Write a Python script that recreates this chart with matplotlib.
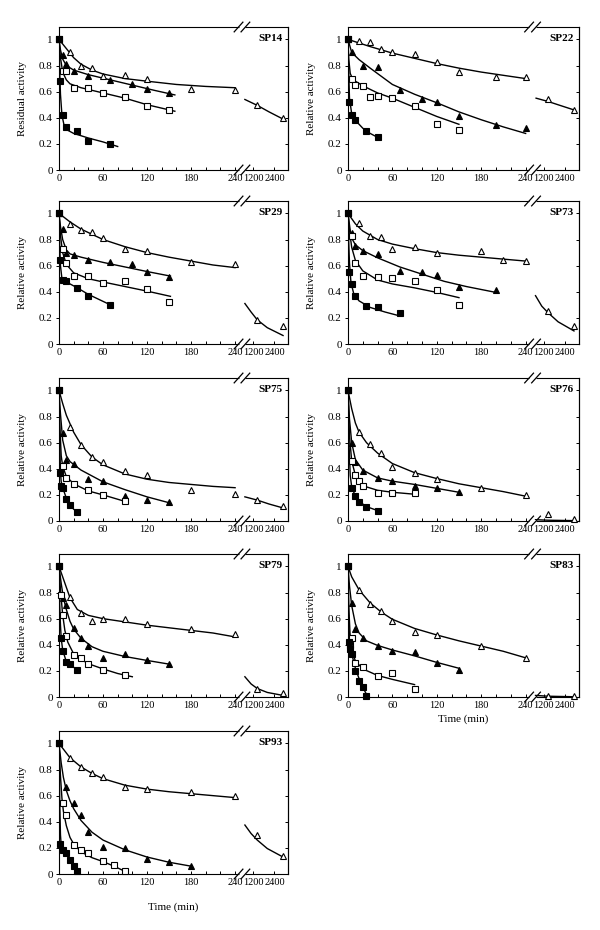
import numpy as np
import matplotlib
matplotlib.use("Agg")
import matplotlib.pyplot as plt

plt.rcParams['font.family'] = ['Liberation Serif', 'DejaVu Serif']

# x tick values / labels (broken time axis)
xticks = [0, 60, 120, 180, 240, 1200, 2400]
xticklabels = ['0', '60', '120', '180', '240', '1200', '2400']
yticks = [0, 0.2, 0.4, 0.6, 0.8, 1.0]
yticklabels = ['0', '0.2', '0.4', '0.6', '0.8', '1']

# measured points: (times, values) per series
# tri_open = open triangles, tri_fill = filled triangles, sq_open = open squares, sq_fill = filled squares
SP14 = {
    'tri_open': ([0, 15, 30, 45, 60, 90, 120, 180, 240, 1440, 2880],
                 [1.0, 0.90, 0.80, 0.78, 0.72, 0.73, 0.70, 0.62, 0.61, 0.50, 0.40]),
    'tri_fill': ([0, 5, 10, 20, 40, 70, 100, 120, 150],
                 [1.0, 0.88, 0.81, 0.76, 0.72, 0.69, 0.66, 0.62, 0.59]),
    'sq_open': ([0, 5, 10, 20, 40, 60, 90, 120, 150],
                [1.0, 0.76, 0.76, 0.63, 0.63, 0.59, 0.56, 0.49, 0.46]),
    'sq_fill': ([0, 2, 5, 10, 25, 40, 70],
                [1.0, 0.68, 0.42, 0.33, 0.30, 0.22, 0.20]),
}
SP22 = {
    'tri_open': ([0, 15, 30, 45, 60, 90, 120, 150, 200, 240, 1440, 2880],
                 [1.0, 0.99, 0.98, 0.93, 0.90, 0.885, 0.83, 0.75, 0.71, 0.71, 0.54, 0.46]),
    'tri_fill': ([0, 5, 20, 40, 70, 100, 120, 150, 200, 240],
                 [1.0, 0.90, 0.80, 0.79, 0.61, 0.54, 0.52, 0.41, 0.345, 0.32]),
    'sq_open': ([0, 5, 10, 20, 30, 40, 60, 90, 120, 150],
                [1.0, 0.70, 0.65, 0.645, 0.56, 0.57, 0.555, 0.49, 0.35, 0.31]),
    'sq_fill': ([0, 2, 5, 10, 25, 40],
                [1.0, 0.52, 0.42, 0.38, 0.30, 0.25]),
}
SP29 = {
    'tri_open': ([0, 15, 30, 45, 60, 90, 120, 180, 240, 1440, 2880],
                 [1.0, 0.92, 0.87, 0.86, 0.81, 0.73, 0.71, 0.63, 0.61, 0.18, 0.14]),
    'tri_fill': ([0, 5, 10, 20, 40, 70, 100, 120, 150],
                 [1.0, 0.88, 0.70, 0.68, 0.64, 0.63, 0.615, 0.55, 0.51]),
    'sq_open': ([0, 5, 10, 20, 40, 60, 90, 120, 150],
                [1.0, 0.725, 0.62, 0.52, 0.52, 0.47, 0.48, 0.42, 0.32]),
    'sq_fill': ([0, 2, 5, 10, 25, 40, 70],
                [1.0, 0.64, 0.49, 0.48, 0.43, 0.37, 0.30]),
}
SP73 = {
    'tri_open': ([0, 15, 30, 45, 60, 90, 120, 180, 210, 240, 1440, 2880],
                 [1.0, 0.93, 0.825, 0.82, 0.73, 0.74, 0.70, 0.715, 0.645, 0.635, 0.25, 0.135]),
    'tri_fill': ([0, 5, 10, 20, 40, 70, 100, 120, 150, 200],
                 [1.0, 0.85, 0.75, 0.715, 0.69, 0.56, 0.55, 0.53, 0.435, 0.415]),
    'sq_open': ([0, 5, 10, 20, 40, 60, 90, 120, 150],
                [1.0, 0.825, 0.62, 0.52, 0.515, 0.505, 0.485, 0.415, 0.295]),
    'sq_fill': ([0, 2, 5, 10, 25, 40, 70],
                [1.0, 0.555, 0.46, 0.365, 0.29, 0.28, 0.235]),
}
SP75 = {
    'tri_open': ([0, 15, 30, 45, 60, 90, 120, 180, 240, 1440, 2880],
                 [1.0, 0.72, 0.58, 0.49, 0.45, 0.38, 0.355, 0.235, 0.205, 0.16, 0.115]),
    'tri_fill': ([0, 5, 10, 20, 40, 60, 90, 120, 150],
                 [1.0, 0.675, 0.465, 0.44, 0.325, 0.305, 0.19, 0.16, 0.145]),
    'sq_open': ([0, 5, 10, 20, 40, 60, 90],
                [1.0, 0.42, 0.33, 0.28, 0.235, 0.20, 0.155]),
    'sq_fill': ([0, 1, 3, 5, 10, 15, 25],
                [1.0, 0.37, 0.27, 0.25, 0.17, 0.12, 0.07]),
}
SP76 = {
    'tri_open': ([0, 15, 30, 45, 60, 90, 120, 180, 240, 1440, 2880],
                 [1.0, 0.68, 0.59, 0.52, 0.415, 0.365, 0.32, 0.25, 0.20, 0.055, 0.015]),
    'tri_fill': ([0, 5, 10, 20, 40, 60, 90, 120, 150],
                 [1.0, 0.60, 0.455, 0.38, 0.33, 0.305, 0.27, 0.25, 0.225]),
    'sq_open': ([0, 5, 10, 15, 20, 40, 60, 90],
                [1.0, 0.46, 0.35, 0.31, 0.27, 0.215, 0.215, 0.215]),
    'sq_fill': ([0, 5, 10, 15, 25, 40],
                [1.0, 0.25, 0.195, 0.145, 0.11, 0.08]),
}
SP79 = {
    'tri_open': ([0, 15, 30, 45, 60, 90, 120, 180, 240, 1440, 2880],
                 [1.0, 0.765, 0.64, 0.585, 0.595, 0.595, 0.56, 0.52, 0.48, 0.065, 0.03]),
    'tri_fill': ([0, 5, 10, 20, 30, 40, 60, 90, 120, 150],
                 [1.0, 0.76, 0.705, 0.53, 0.45, 0.39, 0.30, 0.33, 0.28, 0.25]),
    'sq_open': ([0, 3, 5, 10, 20, 30, 40, 60, 90],
                [1.0, 0.78, 0.63, 0.465, 0.32, 0.30, 0.25, 0.21, 0.165]),
    'sq_fill': ([0, 3, 5, 10, 15, 25],
                [1.0, 0.45, 0.355, 0.27, 0.25, 0.21]),
}
SP83 = {
    'tri_open': ([0, 15, 30, 45, 60, 90, 120, 180, 240, 1440, 2880],
                 [1.0, 0.82, 0.71, 0.655, 0.585, 0.50, 0.475, 0.39, 0.30, 0.005, 0.005]),
    'tri_fill': ([0, 5, 10, 20, 40, 60, 90, 120, 150],
                 [1.0, 0.72, 0.52, 0.45, 0.39, 0.355, 0.345, 0.26, 0.21]),
    'sq_open': ([0, 3, 5, 10, 20, 40, 60, 90],
                [1.0, 0.40, 0.45, 0.26, 0.23, 0.16, 0.18, 0.06]),
    'sq_fill': ([0, 1, 3, 5, 10, 15, 20, 25],
                [1.0, 0.42, 0.37, 0.33, 0.20, 0.12, 0.08, 0.01]),
}
SP93 = {
    'tri_open': ([0, 15, 30, 45, 60, 90, 120, 180, 240, 1440, 2880],
                 [1.0, 0.89, 0.82, 0.77, 0.745, 0.665, 0.65, 0.625, 0.60, 0.295, 0.14]),
    'tri_fill': ([0, 10, 20, 30, 40, 60, 90, 120, 150, 180],
                 [1.0, 0.665, 0.545, 0.455, 0.32, 0.205, 0.20, 0.115, 0.09, 0.065]),
    'sq_open': ([0, 5, 10, 20, 30, 40, 60, 75, 90],
                [1.0, 0.545, 0.45, 0.225, 0.18, 0.16, 0.10, 0.07, 0.02]),
    'sq_fill': ([0, 2, 5, 10, 15, 20, 25],
                [1.0, 0.23, 0.18, 0.16, 0.11, 0.06, 0.02]),
}

# fitted curves (times, values)
SP14_FIT = {
    'tri_open': ([0, 10, 20, 30, 45, 60, 90, 120, 160, 200, 246],
                 [1.0, 0.93, 0.86, 0.81, 0.765, 0.735, 0.70, 0.68, 0.655, 0.64, 0.63]),
    'tri_late': ([770, 1440, 2100, 2880], [0.54, 0.495, 0.445, 0.39]),
    'tri_fill': ([0, 2, 5, 10, 20, 40, 70, 100, 130, 158],
                 [1.0, 0.92, 0.85, 0.80, 0.765, 0.73, 0.69, 0.65, 0.61, 0.575]),
    'sq_open': ([0, 2, 5, 10, 15, 30, 60, 90, 120, 158],
                [1.0, 0.86, 0.75, 0.69, 0.66, 0.63, 0.59, 0.55, 0.50, 0.45]),
    'sq_fill': ([0, 1, 2, 4, 7, 10, 20, 40, 60, 80],
                [1.0, 0.75, 0.58, 0.42, 0.34, 0.31, 0.28, 0.245, 0.215, 0.18]),
}
SP22_FIT = {
    'tri_open': ([0, 30, 60, 90, 120, 150, 180, 210, 246],
                 [1.0, 0.945, 0.895, 0.855, 0.815, 0.78, 0.75, 0.725, 0.70]),
    'tri_late': ([800, 1440, 2100, 2880], [0.55, 0.525, 0.495, 0.46]),
    'tri_fill': ([0, 5, 15, 30, 60, 90, 120, 150, 180, 210, 246],
                 [1.0, 0.90, 0.845, 0.78, 0.655, 0.58, 0.515, 0.445, 0.385, 0.33, 0.28]),
    'sq_open': ([0, 1, 3, 6, 10, 20, 40, 60, 90, 120, 150],
                [1.0, 0.85, 0.74, 0.70, 0.68, 0.645, 0.59, 0.55, 0.48, 0.41, 0.35]),
    'sq_fill': ([0, 1, 2, 5, 10, 20, 30, 40],
                [1.0, 0.75, 0.55, 0.43, 0.38, 0.32, 0.28, 0.25]),
}
SP29_FIT = {
    'tri_open': ([0, 15, 30, 60, 90, 120, 150, 180, 210, 246],
                 [1.0, 0.935, 0.88, 0.80, 0.745, 0.70, 0.665, 0.635, 0.605, 0.585]),
    'tri_late': ([770, 1100, 1440, 2000, 2880], [0.31, 0.245, 0.185, 0.125, 0.065]),
    'tri_fill': ([0, 2, 5, 10, 15, 30, 60, 90, 120, 152],
                 [1.0, 0.90, 0.80, 0.72, 0.69, 0.665, 0.625, 0.59, 0.555, 0.52]),
    'sq_open': ([0, 2, 5, 10, 20, 40, 60, 90, 120, 152],
                [1.0, 0.83, 0.70, 0.61, 0.545, 0.50, 0.475, 0.44, 0.405, 0.365]),
    'sq_fill': ([0, 1, 2, 4, 10, 25, 40, 55, 70],
                [1.0, 0.75, 0.60, 0.50, 0.475, 0.43, 0.38, 0.34, 0.30]),
}
SP73_FIT = {
    'tri_open': ([0, 10, 20, 40, 60, 90, 120, 150, 180, 210, 246],
                 [1.0, 0.92, 0.865, 0.80, 0.765, 0.73, 0.70, 0.68, 0.665, 0.65, 0.635]),
    'tri_late': ([770, 1100, 1440, 2000, 2880], [0.37, 0.29, 0.24, 0.17, 0.10]),
    'tri_fill': ([0, 3, 6, 10, 20, 40, 70, 100, 130, 160, 200],
                 [1.0, 0.87, 0.80, 0.76, 0.715, 0.66, 0.59, 0.535, 0.48, 0.44, 0.395]),
    'sq_open': ([0, 2, 5, 10, 20, 40, 60, 90, 120, 150],
                [1.0, 0.87, 0.74, 0.64, 0.56, 0.49, 0.46, 0.43, 0.395, 0.355]),
    'sq_fill': ([0, 1, 2, 4, 8, 15, 30, 50, 70],
                [1.0, 0.78, 0.62, 0.47, 0.38, 0.33, 0.28, 0.245, 0.215]),
}
SP75_FIT = {
    'tri_open': ([0, 5, 10, 20, 30, 45, 60, 90, 120, 150, 180, 210, 246],
                 [1.0, 0.90, 0.81, 0.68, 0.585, 0.49, 0.43, 0.36, 0.32, 0.295, 0.28, 0.265, 0.255]),
    'tri_late': ([770, 1440, 2100, 2880], [0.185, 0.16, 0.13, 0.10]),
    'tri_fill': ([0, 2, 5, 10, 15, 30, 60, 90, 120, 150],
                 [1.0, 0.82, 0.62, 0.50, 0.455, 0.39, 0.30, 0.24, 0.185, 0.14]),
    'sq_open': ([0, 1, 3, 5, 10, 20, 40, 60, 90],
                [1.0, 0.75, 0.50, 0.42, 0.34, 0.285, 0.23, 0.20, 0.15]),
    'sq_fill': ([0, 1, 2, 3, 5, 10, 15, 20, 25],
                [1.0, 0.60, 0.38, 0.30, 0.255, 0.175, 0.125, 0.09, 0.07]),
}
SP76_FIT = {
    'tri_open': ([0, 5, 10, 15, 25, 40, 60, 90, 120, 150, 180, 210, 246],
                 [1.0, 0.86, 0.75, 0.68, 0.60, 0.52, 0.44, 0.37, 0.325, 0.285, 0.255, 0.225, 0.19]),
    'tri_late': ([770, 1440, 2880], [0.01, 0.006, 0.003]),
    'tri_fill': ([0, 2, 5, 10, 20, 40, 60, 90, 120, 150],
                 [1.0, 0.78, 0.60, 0.47, 0.39, 0.33, 0.305, 0.28, 0.25, 0.22]),
    'sq_open': ([0, 2, 5, 10, 15, 20, 40, 60, 90],
                [1.0, 0.65, 0.46, 0.35, 0.30, 0.27, 0.235, 0.22, 0.205]),
    'sq_fill': ([0, 1, 3, 5, 10, 15, 25, 40],
                [1.0, 0.65, 0.35, 0.26, 0.19, 0.15, 0.11, 0.08]),
}
SP79_FIT = {
    'tri_open': ([0, 5, 10, 15, 25, 40, 60, 90, 120, 150, 180, 210, 246],
                 [1.0, 0.92, 0.84, 0.76, 0.67, 0.625, 0.60, 0.575, 0.55, 0.53, 0.51, 0.49, 0.46]),
    'tri_late': ([770, 1100, 1440, 2000, 2880], [0.155, 0.10, 0.065, 0.035, 0.012]),
    'tri_fill': ([0, 3, 6, 10, 15, 20, 30, 45, 60, 90, 120, 152],
                 [1.0, 0.87, 0.76, 0.67, 0.58, 0.52, 0.45, 0.385, 0.35, 0.31, 0.28, 0.25]),
    'sq_open': ([0, 2, 5, 8, 12, 20, 30, 45, 60, 80, 100],
                [1.0, 0.82, 0.63, 0.51, 0.42, 0.33, 0.285, 0.245, 0.215, 0.18, 0.155]),
    'sq_fill': ([0, 1, 2, 3, 5, 10, 15, 25],
                [1.0, 0.70, 0.55, 0.45, 0.36, 0.27, 0.245, 0.21]),
}
SP83_FIT = {
    'tri_open': ([0, 5, 15, 30, 45, 60, 90, 120, 150, 180, 210, 246],
                 [1.0, 0.92, 0.82, 0.72, 0.65, 0.595, 0.525, 0.475, 0.43, 0.39, 0.35, 0.30]),
    'tri_late': ([770, 1440, 2880], [0.012, 0.006, 0.002]),
    'tri_fill': ([0, 2, 5, 10, 15, 25, 40, 60, 90, 120, 150],
                 [1.0, 0.85, 0.70, 0.56, 0.49, 0.43, 0.395, 0.36, 0.315, 0.265, 0.22]),
    'sq_open': ([0, 1, 3, 5, 10, 20, 40, 60, 90],
                [1.0, 0.70, 0.45, 0.36, 0.275, 0.215, 0.165, 0.135, 0.095]),
    'sq_fill': ([0, 1, 3, 5, 10, 15, 20, 25],
                [1.0, 0.55, 0.40, 0.33, 0.22, 0.14, 0.075, 0.02]),
}
SP93_FIT = {
    'tri_open': ([0, 15, 30, 45, 60, 90, 120, 150, 180, 210, 246],
                 [1.0, 0.89, 0.82, 0.77, 0.73, 0.68, 0.65, 0.63, 0.615, 0.60, 0.585]),
    'tri_late': ([770, 1100, 1440, 2000, 2880], [0.375, 0.31, 0.26, 0.195, 0.13]),
    'tri_fill': ([0, 3, 6, 10, 15, 20, 30, 45, 60, 90, 120, 150, 180],
                 [1.0, 0.85, 0.74, 0.64, 0.56, 0.50, 0.41, 0.32, 0.26, 0.185, 0.13, 0.09, 0.06]),
    'sq_open': ([0, 2, 4, 6, 10, 15, 20, 30, 45, 60, 75, 90],
                [1.0, 0.75, 0.58, 0.48, 0.37, 0.28, 0.23, 0.17, 0.125, 0.095, 0.06, 0.02]),
    'sq_fill': ([0, 1, 2, 3, 5, 10, 15, 20, 25],
                [1.0, 0.55, 0.30, 0.22, 0.185, 0.15, 0.11, 0.065, 0.02]),
}

# name, points, fits, y label, x label offset (None = no x label)
panels = [
    ('SP14', SP14, SP14_FIT, 'Residual activity', None),
    ('SP22', SP22, SP22_FIT, 'Relative activity', None),
    ('SP29', SP29, SP29_FIT, 'Relative activity', None),
    ('SP73', SP73, SP73_FIT, 'Relative activity', None),
    ('SP75', SP75, SP75_FIT, 'Relative activity', None),
    ('SP76', SP76, SP76_FIT, 'Relative activity', None),
    ('SP79', SP79, SP79_FIT, 'Relative activity', None),
    ('SP83', SP83, SP83_FIT, 'Relative activity', -0.12),
    ('SP93', SP93, SP93_FIT, 'Relative activity', -0.2),
]

# broken time axis: 0-240 linear, then squeezed gap, then long times
G = 24.5 / 960.0
K = 0.02443


def fwd(t):
    t = np.asarray(t, dtype=float)
    return np.where(t <= 240, t,
                    np.where(t < 1200, 240 + (t - 240) * G, 264.5 + (t - 1200) * K))


def inv(x):
    x = np.asarray(x, dtype=float)
    return np.where(x <= 240, x,
                    np.where(x < 264.5, 240 + (x - 240) / G, 1200 + (x - 264.5) / K))


styles = {
    'tri_open': dict(marker='^', mfc='white', mec='black', ms=4.6),
    'tri_fill': dict(marker='^', mfc='black', mec='black', ms=4.6),
    'sq_open': dict(marker='s', mfc='white', mec='black', ms=4.0),
    'sq_fill': dict(marker='s', mfc='black', mec='black', ms=4.0),
}

W, H = 600, 930
fig = plt.figure(figsize=(W / 100, H / 100), dpi=100)

cols = [(59, 229), (348, 231)]
rows = [27, 201, 378, 554, 731]
ax_h = 143


def break_marks(ax):
    for yb in (0, 1):
        ax.plot([0.784, 0.814], [yb, yb], transform=ax.transAxes, color='white',
                lw=2.2, clip_on=False, zorder=5, solid_capstyle='butt')
        for xc in (0.784, 0.814):
            ax.plot([xc - 0.019, xc + 0.019], [yb - 0.034, yb + 0.034],
                    transform=ax.transAxes, color='black', lw=0.9, clip_on=False, zorder=6)


for i, (name, pts, fit, ylab, xlab_y) in enumerate(panels):
    cx, cw = cols[i % 2]
    top = rows[i // 2]
    ax = fig.add_axes([cx / W, 1 - (top + ax_h) / H, cw / W, ax_h / H])
    ax.set_xscale('function', functions=(fwd, inv))
    ax.set_xlim(0, 3157)
    ax.set_ylim(0, 1.095)

    for key, (ft, fy) in fit.items():
        ax.plot(ft, fy, color='black', lw=1.0, zorder=2)
    for key, (pt, py) in pts.items():
        ax.plot(pt, py, ls='none', mew=0.8, zorder=3, clip_on=False, **styles[key])

    ax.set_xticks(xticks)
    ax.set_xticklabels(xticklabels, fontsize=7.5)
    ax.set_xticks([20, 40, 80, 100, 140, 160, 200, 220], minor=True)
    ax.tick_params(axis='x', which='both', direction='in', length=2.5, width=0.7, pad=3)
    ax.set_yticks(yticks)
    ax.set_yticklabels(yticklabels, fontsize=8)
    ax.tick_params(axis='y', direction='out', length=2.5, width=0.7, pad=2)
    sec = ax.secondary_yaxis('right')
    sec.set_yticks(yticks)
    sec.tick_params(direction='in', length=2.5, width=0.7, labelright=False)
    for sp in list(ax.spines.values()) + list(sec.spines.values()):
        sp.set_linewidth(0.8)

    ax.set_ylabel(ylab, fontsize=8)
    ax.yaxis.set_label_coords(-0.14, 0.5)
    if xlab_y is not None:
        ax.set_xlabel('Time (min)', fontsize=8)
        ax.xaxis.set_label_coords(0.5, xlab_y)
    ax.text(0.978, 0.923, name, transform=ax.transAxes, ha='right', va='center',
            fontsize=8, fontweight='bold')
    break_marks(ax)

fig.savefig('out.png', dpi=100)
